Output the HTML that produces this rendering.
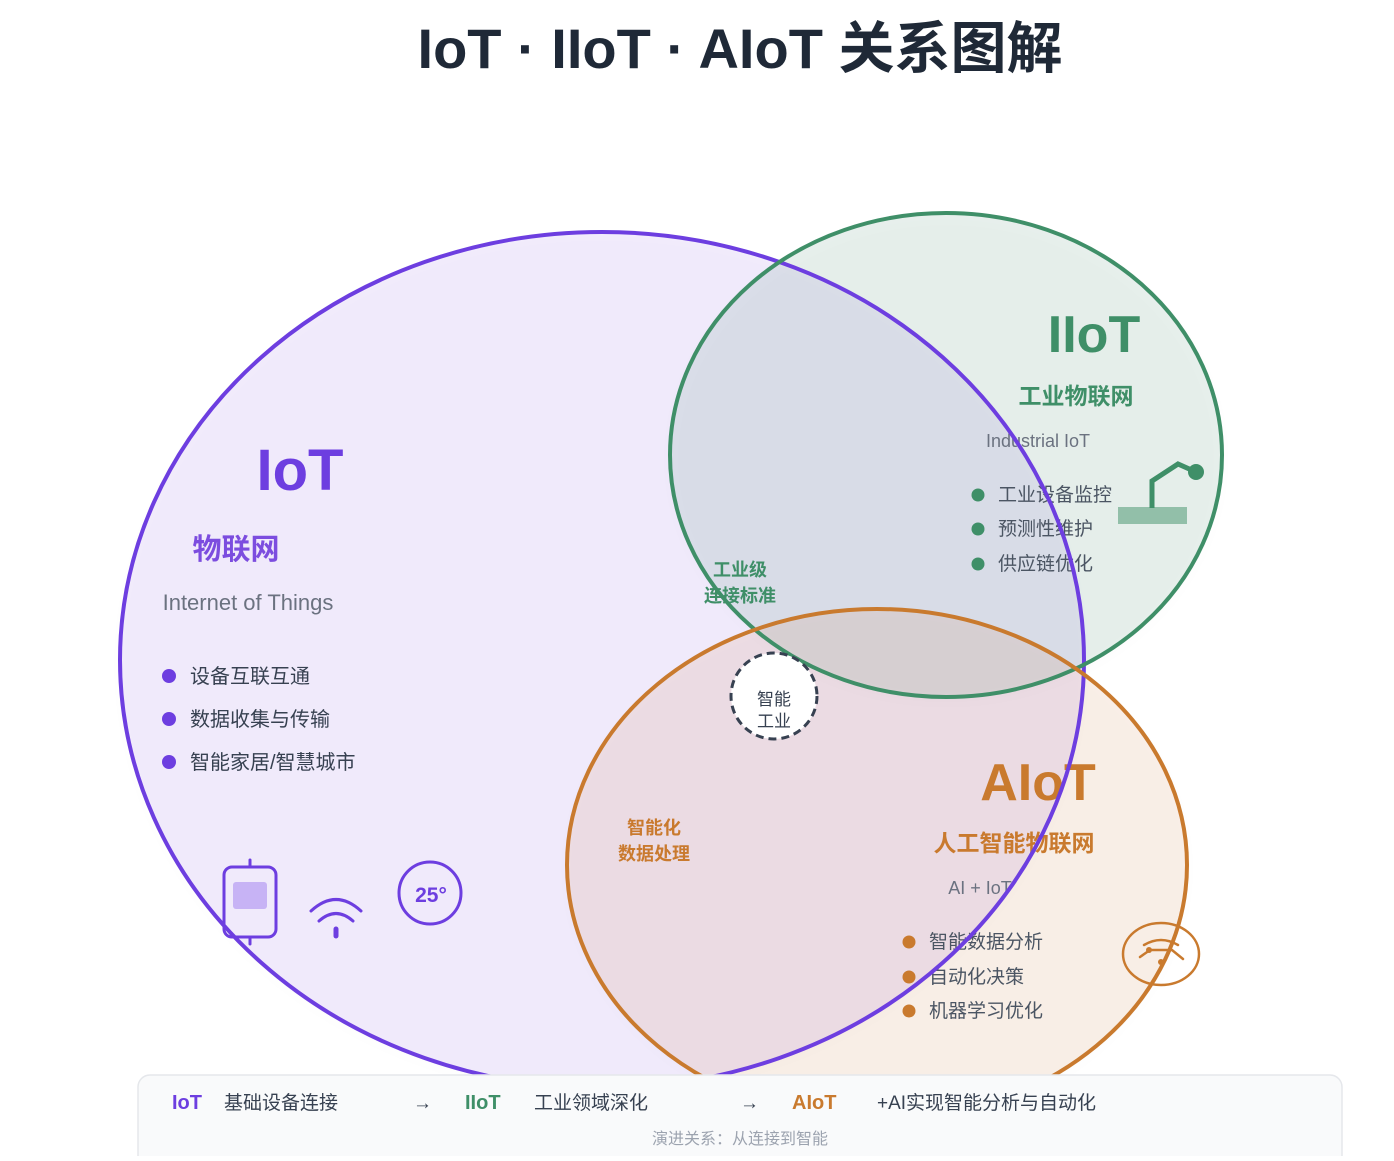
<!DOCTYPE html>
<html><head><meta charset="utf-8"><style>
html,body{margin:0;padding:0;background:#fff;}
body{width:1394px;height:1156px;overflow:hidden;font-family:"Liberation Sans","Noto Sans CJK SC",sans-serif;}
</style></head><body>
<svg width="1394" height="1156" viewBox="0 0 1394 1156" xmlns="http://www.w3.org/2000/svg" font-family="Liberation Sans, Noto Sans CJK SC, sans-serif">
<defs>
<filter id="sh" x="-10%" y="-10%" width="120%" height="120%"><feDropShadow dx="0" dy="4" stdDeviation="6" flood-color="#000" flood-opacity="0.12"/></filter>
</defs>
<text x="740" y="68" text-anchor="middle" font-size="56" font-weight="bold" fill="#1f2937">IoT · IIoT · AIoT 关系图解</text>
<ellipse cx="602" cy="660" rx="482" ry="428" fill="#7c4ddf" fill-opacity="0.10" filter="url(#sh)"/>
<ellipse cx="946" cy="455" rx="276" ry="242" fill="#3f8f68" fill-opacity="0.12" filter="url(#sh)"/>
<ellipse cx="877" cy="865" rx="310" ry="256" fill="#d07a2e" fill-opacity="0.11" filter="url(#sh)"/>
<text x="300" y="490" text-anchor="middle" font-size="58" font-weight="bold" fill="#6d3ee0">IoT</text>
<text x="236" y="559" text-anchor="middle" font-size="29" font-weight="bold" fill="#7c4ddf">物联网</text>
<text x="248" y="610" text-anchor="middle" font-size="22" fill="#6b7280">Internet of Things</text>
<g font-size="20" fill="#374151">
<circle cx="169" cy="676" r="7" fill="#6d3ee0"/><text x="190" y="683">设备互联互通</text>
<circle cx="169" cy="719" r="7" fill="#6d3ee0"/><text x="190" y="726">数据收集与传输</text>
<circle cx="169" cy="762" r="7" fill="#6d3ee0"/><text x="190" y="769">智能家居/智慧城市</text>
</g>
<g stroke="#6d3ee0" stroke-width="3" fill="none" stroke-linecap="round">
<rect x="224" y="867" width="52" height="70" rx="8"/>
<line x1="250" y1="860" x2="250" y2="867"/><line x1="250" y1="937" x2="250" y2="944"/>
<path d="M311 911 Q336 888 361 911"/><path d="M319 921 Q336 906 353 921"/>
<line x1="336" y1="929" x2="336" y2="936" stroke-width="5"/>
<circle cx="430" cy="893" r="31"/>
</g>
<rect x="233" y="882" width="34" height="27" rx="3" fill="#c7b3f5"/>
<text x="431" y="902" text-anchor="middle" font-size="21" font-weight="bold" fill="#6d3ee0">25°</text>
<text x="1094" y="352" text-anchor="middle" font-size="52" font-weight="bold" fill="#3f8f68">IIoT</text>
<text x="1076" y="404" text-anchor="middle" font-size="23" font-weight="bold" fill="#3f8f68">工业物联网</text>
<text x="1038" y="447" text-anchor="middle" font-size="18" fill="#6b7280">Industrial IoT</text>
<g font-size="19" fill="#4b5563">
<circle cx="978" cy="495" r="6.5" fill="#3f8f68"/><text x="998" y="501">工业设备监控</text>
<circle cx="978" cy="529" r="6.5" fill="#3f8f68"/><text x="998" y="535">预测性维护</text>
<circle cx="978" cy="564" r="6.5" fill="#3f8f68"/><text x="998" y="570">供应链优化</text>
</g>
<rect x="1118" y="507" width="69" height="17" fill="#3f8f68" fill-opacity="0.5"/>
<path d="M1152 508 V481 L1178 464 L1196 472" stroke="#3f8f68" stroke-width="5" fill="none"/>
<circle cx="1196" cy="472" r="8" fill="#3f8f68"/>
<text x="740" y="576" text-anchor="middle" font-size="18" font-weight="bold" fill="#3f8f68">工业级</text>
<text x="740" y="602" text-anchor="middle" font-size="18" font-weight="bold" fill="#3f8f68">连接标准</text>
<text x="1038" y="800" text-anchor="middle" font-size="52" font-weight="bold" fill="#c97a2e">AIoT</text>
<text x="1014" y="851" text-anchor="middle" font-size="23" font-weight="bold" fill="#c97a2e">人工智能物联网</text>
<text x="980" y="894" text-anchor="middle" font-size="18" fill="#6b7280">AI + IoT</text>
<g font-size="19" fill="#4b5563">
<circle cx="909" cy="942" r="6.5" fill="#c97a2e"/><text x="929" y="948">智能数据分析</text>
<circle cx="909" cy="977" r="6.5" fill="#c97a2e"/><text x="929" y="983">自动化决策</text>
<circle cx="909" cy="1011" r="6.5" fill="#c97a2e"/><text x="929" y="1017">机器学习优化</text>
</g>
<text x="654" y="834" text-anchor="middle" font-size="18" font-weight="bold" fill="#c97a2e">智能化</text>
<text x="654" y="860" text-anchor="middle" font-size="18" font-weight="bold" fill="#c97a2e">数据处理</text>
<g stroke="#c97a2e" stroke-width="2.5" fill="none" stroke-linecap="round">
<ellipse cx="1161" cy="954" rx="38" ry="31"/>
<path d="M1144 945 Q1161 935 1178 945"/><path d="M1140 957 L1150 950 L1172 950 L1183 959"/>
</g>
<circle cx="1149" cy="950" r="3" fill="#c97a2e"/><circle cx="1161" cy="962" r="3" fill="#c97a2e"/>
<ellipse cx="602" cy="660" rx="482" ry="428" fill="none" stroke="#6d3ee0" stroke-width="4"/>
<ellipse cx="946" cy="455" rx="276" ry="242" fill="none" stroke="#3f8f68" stroke-width="4"/>
<ellipse cx="877" cy="865" rx="310" ry="256" fill="none" stroke="#c97a2e" stroke-width="4"/>
<circle cx="774" cy="696" r="43" fill="#fff" stroke="#374151" stroke-width="3" stroke-dasharray="8 5"/>
<text x="774" y="705" text-anchor="middle" font-size="17" fill="#374151">智能</text>
<text x="774" y="727" text-anchor="middle" font-size="17" fill="#374151">工业</text>
<rect x="138" y="1075" width="1204" height="100" rx="12" fill="#f9fafb" stroke="#e5e7eb" stroke-width="1.5"/>
<text x="172" y="1109" font-size="20" font-weight="bold" fill="#6d3ee0">IoT</text>
<text x="224" y="1109" font-size="19" fill="#374151">基础设备连接</text>
<text x="413" y="1109" font-size="19" fill="#374151">→</text>
<text x="465" y="1109" font-size="20" font-weight="bold" fill="#3f8f68">IIoT</text>
<text x="534" y="1109" font-size="19" fill="#374151">工业领域深化</text>
<text x="740" y="1109" font-size="19" fill="#374151">→</text>
<text x="792" y="1109" font-size="20" font-weight="bold" fill="#c97a2e">AIoT</text>
<text x="877" y="1109" font-size="19" fill="#374151">+AI实现智能分析与自动化</text>
<text x="740" y="1144" text-anchor="middle" font-size="16" fill="#9ca3af">演进关系：从连接到智能</text>
</svg>
</body></html>
